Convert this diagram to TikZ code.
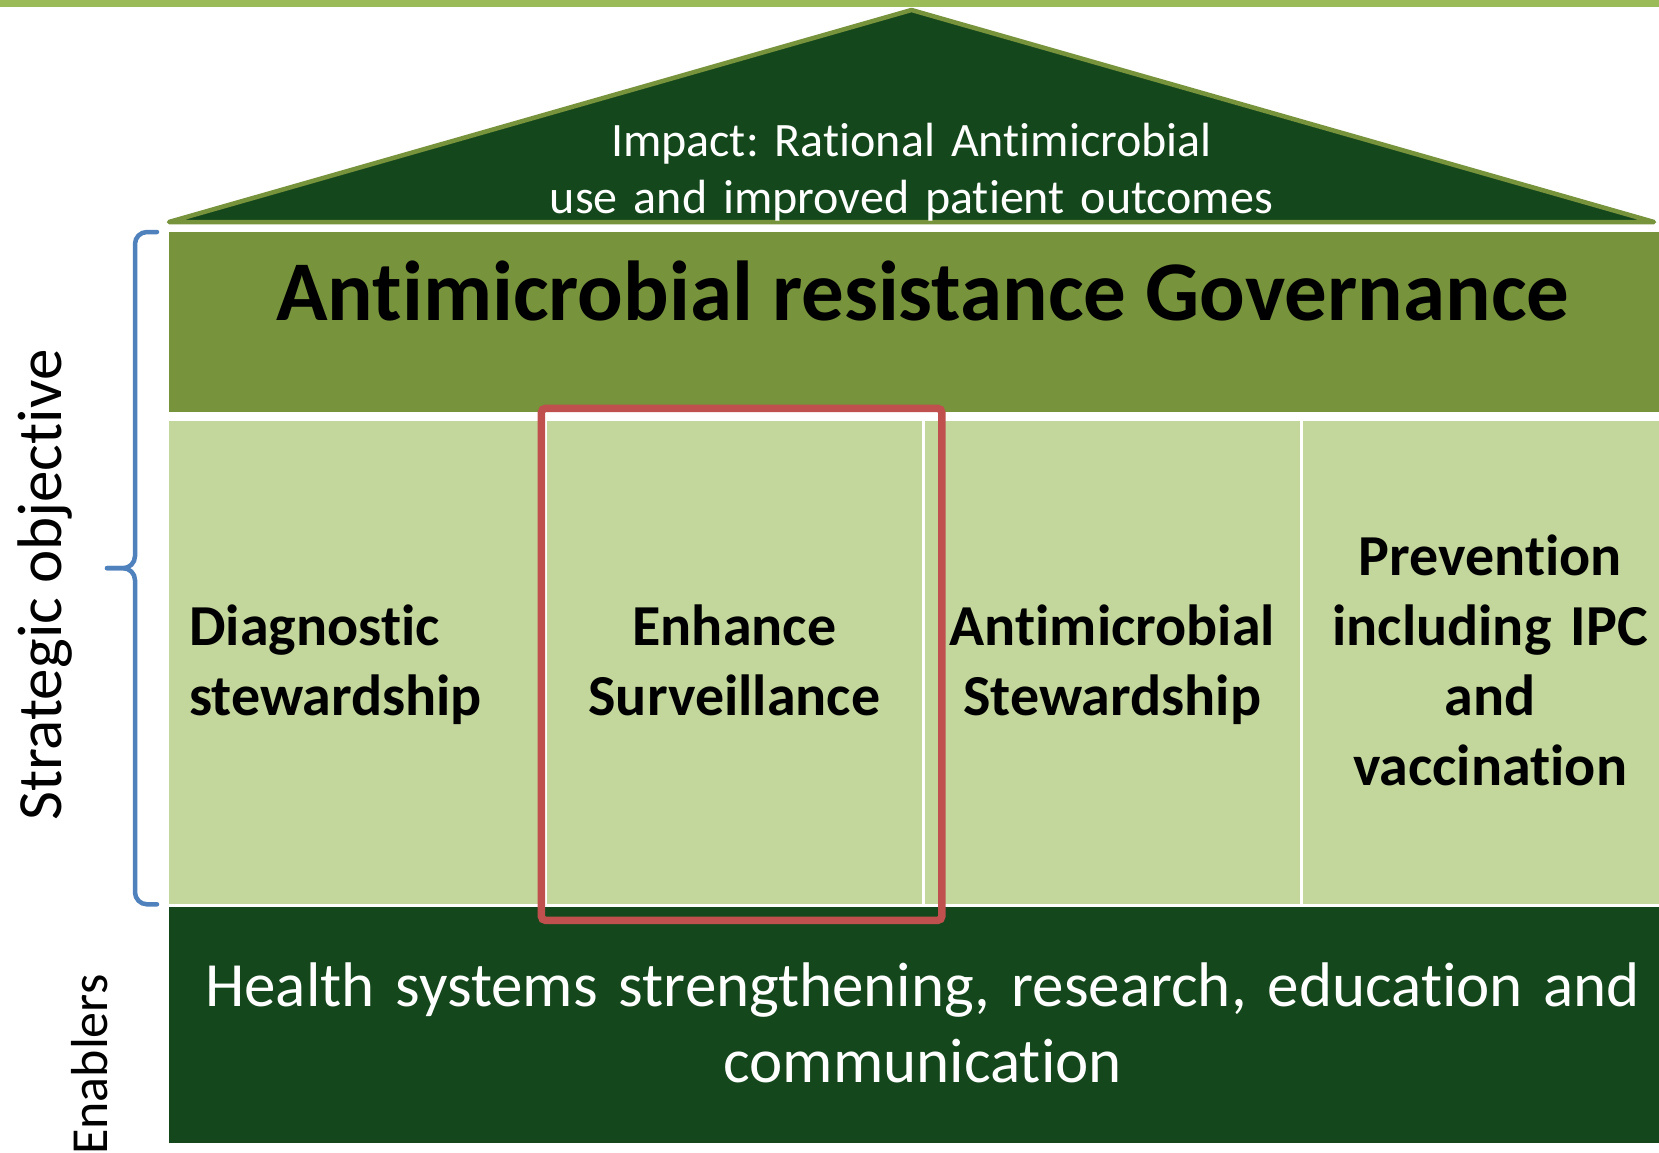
\documentclass[tikz,border=0pt]{standalone}
\usepackage{fontspec}
\setmainfont{Carlito}[Ligatures=NoCommon]
\usetikzlibrary{positioning,calc}
\frenchspacing

\definecolor{topgreen}{HTML}{9BBB59}
\definecolor{darkgreen}{HTML}{15471D}
\definecolor{govolive}{HTML}{77933C}
\definecolor{pillargreen}{HTML}{C3D69B}
\definecolor{hlred}{HTML}{C0504D}
\definecolor{braceblue}{HTML}{4F81BD}

\begin{document}
\begin{tikzpicture}[
    x=1pt, y=-1pt,
    band/.style={rectangle, inner sep=0pt, minimum width=1507pt, anchor=north west},
    pillar/.style={rectangle, inner sep=0pt, fill=pillargreen, minimum width=374.5pt, minimum height=483.5pt},
    pillartext/.style={inner sep=0pt, text width=340pt, align=center, font=\fontsize{58}{70}\selectfont\bfseries},
    sidetext/.style={inner sep=0pt, rotate=90, anchor=base west},
    bracket/.style={braceblue, line width=4.5pt, line cap=round, rounded corners=12pt}
  ]

% Page size and background
\useasboundingbox (0,0) rectangle (1659,1153);
\fill[white] (0,0) rectangle (1659,1153);

% Green strip at the top
\fill[topgreen] (0,0) rectangle (1659,7.3);

% Roof
\coordinate (apex) at (911.5,10);
\filldraw[fill=darkgreen, draw=govolive, line width=4.5pt, line join=round] (169,222) -- (apex) -- (1654,222) -- cycle;
\node[inner sep=0pt, text width=800pt, align=center, text=white, font=\fontsize{48}{57}\selectfont, anchor=base] (impact) at ($(apex)+(0,147)$) {Impact: Rational Antimicrobial\\use and improved patient outcomes};

% Governance band
\node[band, fill=govolive, minimum height=180pt] (govern) at (169,232) {};
\node[inner sep=0pt, font=\fontsize{85}{100}\selectfont\bfseries, anchor=base] (govlbl) at ($(govern.north)+(0,88)$) {Antimicrobial resistance Governance};

% Pillars
\node[pillar, below=8pt of govern.south west, anchor=north west] (diag) {};
\node[pillar, right=3pt of diag] (surv) {};
\node[pillar, right=3pt of surv] (amstw) {};
\node[pillar, right=3pt of amstw] (prev) {};

\node[pillartext, align=left, text width=335pt, anchor=base west] (diaglbl) at ($(diag.west)+(20,-16.5)$) {Diagnostic\\stewardship};
\node[pillartext, anchor=base] (survlbl) at ($(surv.center)+(0,-16.5)$) {Enhance\\Surveillance};
\node[pillartext, anchor=base] (amstwlbl) at ($(amstw.center)+(0,-16.5)$) {Antimicrobial\\Stewardship};
\node[pillartext, anchor=base] (prevlbl) at ($(prev.center)+(0,-86.5)$) {Prevention\\including IPC\\and\\vaccination};

% Enablers band
\node[band, fill=darkgreen, minimum height=236pt, below=2.5pt of diag.south west, anchor=north west] (enabl) {};
\node[inner sep=0pt, text width=1480pt, align=center, text=white, font=\fontsize{63}{76}\selectfont, anchor=base] (enabllbl) at ($(enabl.north)+(0,100)$) {Health systems strengthening, research, education and\\communication};

% Highlight on surveillance
\draw[hlred, line width=7.5pt, rounded corners=4pt] ($(surv.north west)+(-5.5,-12)$) rectangle ($(surv.south east)+(20,16)$);

% Brace
\coordinate (btop) at ($(govern.north west)+(-12,0)$);
\coordinate (bbot) at ($(diag.south west)+(-12,0)$);
\coordinate (btip) at ($(btop)!0.5!(bbot)+(-50,0)$);
\draw[bracket] (btip) -| ($(btop)+(-22,0)$) -- (btop);
\draw[bracket] (btip) -| ($(bbot)+(-22,0)$) -- (bbot);

% Side labels
\node[sidetext, font=\fontsize{63}{70}\selectfont] (stratlbl) at (61,821) {Strategic objective};
\node[sidetext, font=\fontsize{52}{60}\selectfont] (enablside) at (107,1155) {Enablers};

\end{tikzpicture}
\end{document}
